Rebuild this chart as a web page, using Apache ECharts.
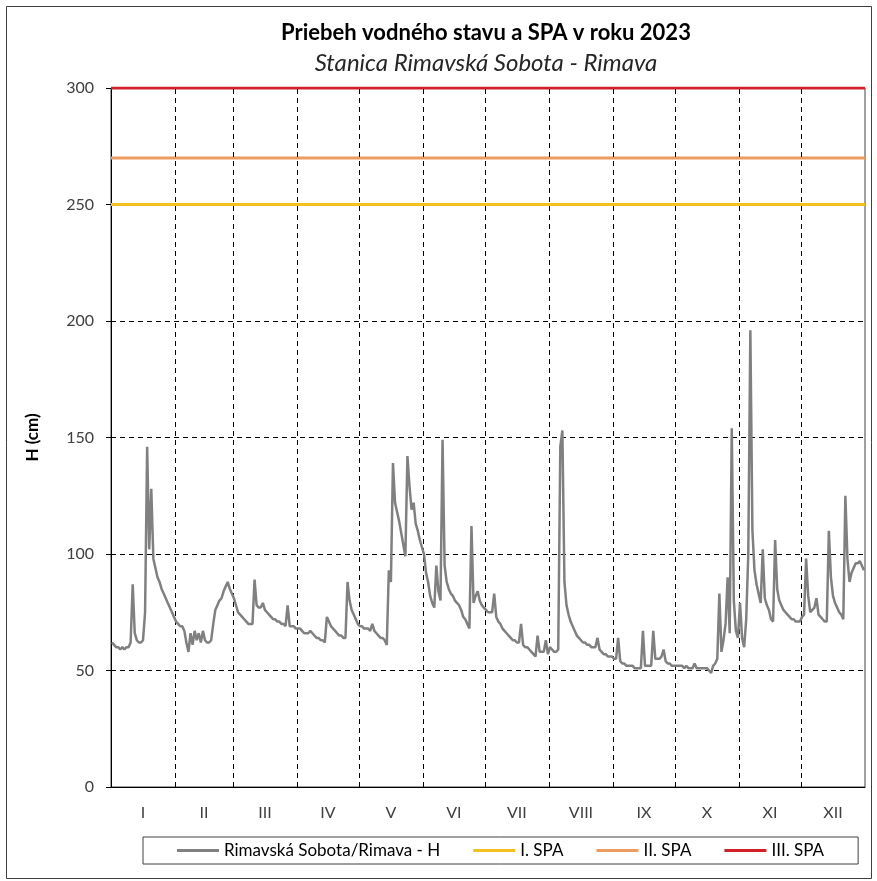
<!DOCTYPE html>
<html><head><meta charset="utf-8">
<script src="https://cdn.jsdelivr.net/npm/echarts@6/dist/echarts.min.js"></script>
<style>html,body{margin:0;padding:0;background:#fff}#c{width:877px;height:881px}</style>
</head><body><div id="c"></div>
<script>
// ---- data ----
const titleText = 'Priebeh vodného stavu a SPA v roku 2023';
const subtitleText = 'Stanica Rimavská Sobota - Rimava';
const yAxisName = 'H (cm)';
const seriesName = 'Rimavská Sobota/Rimava - H';
const monthLabels = ['I','II','III','IV','V','VI','VII','VIII','IX','X','XI','XII'];
const monthLengths = [31,28,31,30,31,30,31,31,30,31,30,31];
const yTicks = [0, 50, 100, 150, 200, 250, 300];

// daily water level H (cm), one array per month
const jan = [62,61,60,60,59,60,59,60,60,62,87,66,63,62,62,63,75,146,102,128,98,94,90,88,85,83,81,79,77,75,73];
const feb = [71,70,69,69,67,62,58,66,61,67,63,66,62,67,63,62,62,63,70,76,78,80,81,84,86,88,85,83];
const mar = [81,78,75,74,73,72,71,70,70,70,89,78,77,77,79,76,75,74,73,72,72,71,71,70,70,69,78,69,69,69,68];
const apr = [68,68,67,66,66,66,67,66,65,64,64,63,63,62,73,71,69,68,67,66,65,65,64,64,88,80,76,74,72,70];
const may = [69,69,68,68,68,67,70,67,66,65,64,64,63,61,93,88,139,122,118,114,109,104,99,142,129,119,122,113,110,106,103];
const jun = [100,92,88,82,79,77,95,84,80,149,95,88,85,83,82,80,79,78,76,73,72,70,68,112,79,82,84,80,78,77];
const jul = [76,75,75,75,83,73,71,70,68,67,66,65,64,63,63,62,62,70,61,60,60,59,58,57,56,65,58,58,58,63,57];
const aug = [60,59,58,58,59,146,153,88,78,74,71,69,67,65,64,63,62,62,61,61,60,60,60,64,59,58,57,57,56,56,56];
const sep = [55,55,64,54,53,53,52,52,52,52,51,51,51,51,67,52,52,52,52,67,55,55,55,56,59,54,53,53,52,52];
const oct = [52,52,52,52,51,52,51,51,51,53,51,51,51,51,51,51,50,49,52,53,55,83,58,63,70,90,66,154,80,67,64];
const nov = [79,64,60,72,100,196,110,93,87,83,79,102,81,78,76,72,71,106,85,80,78,76,75,74,73,72,72,71,71,71];
const dec = [73,74,98,82,75,76,77,81,74,73,72,71,71,110,90,82,79,77,75,74,72,125,98,88,92,94,96,96,97,95,93];

const spaNames = ['I. SPA', 'II. SPA', 'III. SPA'];
const spaLevels = [250, 270, 300];
const spaColors = ['#F4C020', '#EC9C5E', '#D2202A'];

// ---- build ----
const months = [jan, feb, mar, apr, may, jun, jul, aug, sep, oct, nov, dec];
const daily = [].concat(...months);
const lineData = daily.map((v, i) => [i + 0.5, v]);
const starts = [];
let acc = 0;
monthLengths.forEach(l => { starts.push(acc); acc += l; });
const yearDays = acc;
const mids = starts.map((s, i) => s + monthLengths[i] / 2);
const boundaries = starts.slice(1);

const FONT = 'Lato';
const dash = [5, 4];

const series = [{
  name: seriesName,
  type: 'line',
  data: lineData,
  showSymbol: false,
  symbol: 'none',
  z: 5,
  lineStyle: { color: '#808080', width: 2.5 },
  itemStyle: { color: '#808080' }
}, {
  name: 'monthGrid',
  type: 'line',
  data: [],
  z: 1,
  silent: true,
  markLine: {
    silent: true,
    symbol: 'none',
    animation: false,
    label: { show: false },
    lineStyle: { color: '#000', type: dash, width: 1 },
    data: boundaries.map(b => ({ xAxis: b }))
  }
}];
spaLevels.forEach((lvl, i) => {
  series.push({
    name: spaNames[i],
    type: 'line',
    data: [[0, lvl], [yearDays, lvl]],
    symbol: 'none',
    z: 4,
    lineStyle: { color: spaColors[i], width: 3 },
    itemStyle: { color: spaColors[i] }
  });
});

const chart = echarts.init(document.getElementById('c'), null, { renderer: 'canvas' });
chart.setOption({
  animation: false,
  backgroundColor: '#fff',
  title: [{
    text: titleText,
    left: 481, top: 17, textAlign: 'center',
    textStyle: { fontFamily: FONT, fontWeight: 'bold', fontSize: 22, color: '#000' }
  }, {
    text: subtitleText,
    left: 481, top: 46, textAlign: 'center',
    textStyle: { fontFamily: FONT, fontStyle: 'italic', fontWeight: 'normal', fontSize: 24, color: '#262626' }
  }],
  graphic: [{
    type: 'rect', silent: true,
    shape: { x: 6.5, y: 6.5, width: 865, height: 872 },
    style: { fill: 'none', stroke: '#404040', lineWidth: 1 }
  }],
  legend: {
    data: [seriesName].concat(spaNames),
    left: 143, top: 837,
    padding: [5, 34, 5, 34],
    borderColor: '#404040', borderWidth: 1,
    itemGap: 33, itemWidth: 42, itemHeight: 3,
    icon: 'rect',
    textStyle: { fontFamily: FONT, fontSize: 17, color: '#000' }
  },
  grid: {
    left: 111, right: 12, top: 88, bottom: 94,
    show: true, borderColor: '#404040', borderWidth: 1, backgroundColor: 'transparent'
  },
  xAxis: {
    type: 'value', min: 0, max: yearDays,
    axisLine: { show: true, lineStyle: { color: '#000', width: 1 } },
    axisTick: { show: false },
    splitLine: { show: false },
    axisLabel: {
      customValues: mids,
      margin: 18,
      fontFamily: FONT, fontSize: 16, color: '#404040',
      formatter: v => {
        const k = mids.findIndex(m => Math.abs(m - v) < 0.01);
        return k >= 0 ? monthLabels[k] : '';
      }
    }
  },
  yAxis: {
    type: 'value', min: yTicks[0], max: yTicks[yTicks.length - 1], interval: yTicks[1] - yTicks[0],
    name: yAxisName, nameLocation: 'middle', nameGap: 70,
    nameTextStyle: { fontFamily: FONT, fontWeight: 'bold', fontSize: 17, color: '#000' },
    axisLine: { show: true, lineStyle: { color: '#000', width: 1 } },
    axisTick: { show: true, length: 5, lineStyle: { color: '#000' } },
    axisLabel: { margin: 17, fontFamily: FONT, fontSize: 16, color: '#404040' },
    splitLine: { show: true, lineStyle: { color: '#000', type: dash, width: 1 } }
  },
  series: series
});
</script>
</body></html>
